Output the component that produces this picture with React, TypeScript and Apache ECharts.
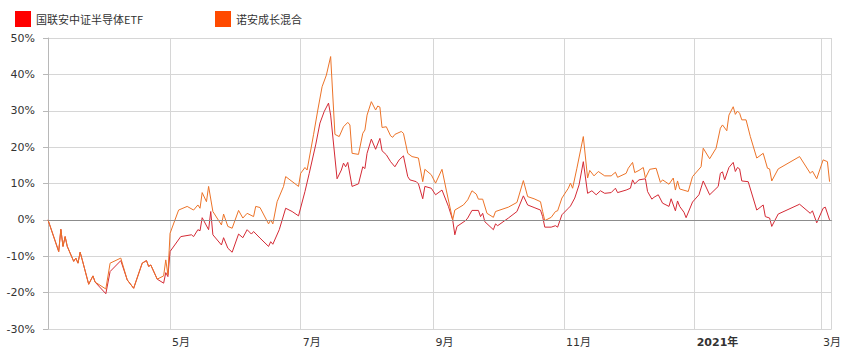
import { useEffect, useRef } from "react";
import * as echarts from "echarts";

const SERIES_NAMES = ["国联安中证半导体ETF", "诺安成长混合"];
const LEGEND_COLORS = ["#ff0000", "#ff4a00"];
const LINE_COLORS = ["#d42a35", "#ec7328"];

const X_MIN = "2020-03-05";
const X_MAX = "2021-03-06";
const Y_MIN = -30;
const Y_MAX = 50;
const Y_STEP = 10;

const etfDates = [
  "2020-03-05", "2020-03-10", "2020-03-11", "2020-03-12", "2020-03-13", "2020-03-14", "2020-03-17", "2020-03-18",
  "2020-03-19", "2020-03-20", "2020-03-21", "2020-03-24", "2020-03-26", "2020-03-27", "2020-04-01", "2020-04-03",
  "2020-04-08", "2020-04-11", "2020-04-14", "2020-04-18", "2020-04-20", "2020-04-21", "2020-04-22", "2020-04-25",
  "2020-04-28", "2020-04-29", "2020-04-30", "2020-05-01", "2020-05-06", "2020-05-11", "2020-05-12", "2020-05-14",
  "2020-05-15", "2020-05-16", "2020-05-19", "2020-05-20", "2020-05-21", "2020-05-25", "2020-05-26", "2020-05-28",
  "2020-05-30", "2020-06-02", "2020-06-04", "2020-06-06", "2020-06-08", "2020-06-09", "2020-06-12", "2020-06-16",
  "2020-06-17", "2020-06-18", "2020-06-21", "2020-06-24", "2020-06-27", "2020-06-30", "2020-07-03", "2020-07-05",
  "2020-07-08", "2020-07-10", "2020-07-12", "2020-07-14", "2020-07-15", "2020-07-18", "2020-07-20", "2020-07-21",
  "2020-07-22", "2020-07-23", "2020-07-25", "2020-07-28", "2020-07-30", "2020-07-31", "2020-08-01", "2020-08-03",
  "2020-08-05", "2020-08-07", "2020-08-08", "2020-08-10", "2020-08-12", "2020-08-14", "2020-08-16", "2020-08-18",
  "2020-08-20", "2020-08-21", "2020-08-24", "2020-08-25", "2020-08-27", "2020-08-28", "2020-08-31", "2020-09-02",
  "2020-09-05", "2020-09-08", "2020-09-10", "2020-09-11", "2020-09-12", "2020-09-16", "2020-09-17", "2020-09-19",
  "2020-09-22", "2020-09-23", "2020-09-24", "2020-09-25", "2020-09-29", "2020-09-30", "2020-10-01", "2020-10-06",
  "2020-10-10", "2020-10-13", "2020-10-15", "2020-10-18", "2020-10-21", "2020-10-22", "2020-10-23", "2020-10-26",
  "2020-10-28", "2020-10-29", "2020-10-31", "2020-11-03", "2020-11-04", "2020-11-06", "2020-11-08", "2020-11-10",
  "2020-11-12", "2020-11-14", "2020-11-16", "2020-11-18", "2020-11-20", "2020-11-23", "2020-11-25", "2020-11-26",
  "2020-11-30", "2020-12-02", "2020-12-03", "2020-12-04", "2020-12-06", "2020-12-09", "2020-12-10", "2020-12-12",
  "2020-12-13", "2020-12-15", "2020-12-17", "2020-12-20", "2020-12-21", "2020-12-23", "2020-12-24", "2020-12-25",
  "2020-12-27", "2020-12-28", "2020-12-31", "2021-01-03", "2021-01-05", "2021-01-08", "2021-01-12", "2021-01-13",
  "2021-01-14", "2021-01-15", "2021-01-17", "2021-01-19", "2021-01-20", "2021-01-21", "2021-01-22", "2021-01-23",
  "2021-01-26", "2021-01-30", "2021-02-02", "2021-02-03", "2021-02-05", "2021-02-06", "2021-02-09", "2021-02-19",
  "2021-02-24", "2021-02-25", "2021-02-27", "2021-03-02", "2021-03-03", "2021-03-05",
];
const etfValues = [
  0, -8.7, -2.6, -7.3, -4.6, -7.3, -11.4, -10.5,
  -11.9, -8.9, -11.0, -17.7, -15.4, -17.1, -20.3, -14.2,
  -11.2, -16.5, -18.8, -11.9, -11.2, -12.8, -12.4, -16.3,
  -17.4, -14.5, -15.6, -8.7, -4.6, -4.1, -4.6, -2.7,
  -3.0, 0.6, -2.7, 2.3, -4.1, -6.9, -4.9, -7.8,
  -8.9, -3.9, -4.9, -2.7, -3.9, -3.2, -5.0, -7.3,
  -6.0, -6.7, -2.7, 3.2, 2.3, 1.1, 7.8, 12.8,
  20.6, 26.6, 29.8, 32.1, 28.8, 11.3, 13.7, 15.6,
  14.6, 15.8, 9.2, 9.9, 14.6, 14.1, 18.3, 22.2,
  19.4, 22.4, 19.0, 17.9, 16.0, 14.6, 16.5, 17.6,
  11.9, 11.0, 10.5, 9.9, 5.8, 9.2, 8.7, 6.9,
  8.2, 3.7, 0, -4.1, -1.8, -0.2, 0.5, 2.6,
  2.6, 0.9, 1.8, -0.5, -2.7, -1.1, -1.6, 0.5,
  2.3, 6.6, 4.1, 3.4, 2.7, 0.9, -2.0, -2.0,
  -1.6, -2.0, 1.4, 3.2, 3.8, 6.0, 9.6, 16.0,
  7.3, 8.0, 6.9, 8.0, 7.3, 7.5, 8.7, 7.5,
  8.2, 8.7, 11.0, 9.9, 11.0, 11.3, 7.8, 5.7,
  6.2, 6.9, 4.6, 3.7, 5.8, 2.5, 5.2, 3.7,
  2.1, 0.6, 4.9, 6.9, 10.7, 6.9, 9.2, 12.8,
  13.2, 11.0, 14.4, 15.8, 13.3, 14.4, 14.0, 10.7,
  10.5, 2.7, 4.1, 0.9, 0.5, -1.8, 1.6, 4.3,
  1.8, 2.5, -0.8, 3.2, 3.5, 0,
];

const fundDates = [
  "2020-03-05", "2020-03-10", "2020-03-11", "2020-03-12", "2020-03-13", "2020-03-14", "2020-03-17", "2020-03-18",
  "2020-03-19", "2020-03-20", "2020-03-21", "2020-03-24", "2020-03-26", "2020-03-27", "2020-04-01", "2020-04-03",
  "2020-04-08", "2020-04-11", "2020-04-14", "2020-04-18", "2020-04-20", "2020-04-21", "2020-04-22", "2020-04-25",
  "2020-04-28", "2020-04-29", "2020-04-30", "2020-05-01", "2020-05-05", "2020-05-09", "2020-05-12", "2020-05-14",
  "2020-05-15", "2020-05-16", "2020-05-18", "2020-05-19", "2020-05-21", "2020-05-25", "2020-05-26", "2020-05-28",
  "2020-05-30", "2020-06-02", "2020-06-04", "2020-06-06", "2020-06-09", "2020-06-10", "2020-06-12", "2020-06-16",
  "2020-06-17", "2020-06-18", "2020-06-20", "2020-06-23", "2020-06-24", "2020-06-26", "2020-06-30", "2020-07-01",
  "2020-07-03", "2020-07-04", "2020-07-07", "2020-07-09", "2020-07-11", "2020-07-13", "2020-07-15", "2020-07-17",
  "2020-07-19", "2020-07-21", "2020-07-23", "2020-07-24", "2020-07-25", "2020-07-28", "2020-07-30", "2020-07-31",
  "2020-08-01", "2020-08-03", "2020-08-05", "2020-08-06", "2020-08-07", "2020-08-08", "2020-08-10", "2020-08-12",
  "2020-08-13", "2020-08-14", "2020-08-17", "2020-08-18", "2020-08-20", "2020-08-22", "2020-08-25", "2020-08-27",
  "2020-08-28", "2020-08-31", "2020-09-02", "2020-09-05", "2020-09-07", "2020-09-10", "2020-09-11", "2020-09-15",
  "2020-09-17", "2020-09-19", "2020-09-21", "2020-09-22", "2020-09-24", "2020-09-26", "2020-09-29", "2020-09-30",
  "2020-10-06", "2020-10-10", "2020-10-13", "2020-10-15", "2020-10-18", "2020-10-21", "2020-10-22", "2020-10-23",
  "2020-10-26", "2020-10-28", "2020-10-29", "2020-10-31", "2020-11-03", "2020-11-04", "2020-11-05", "2020-11-07",
  "2020-11-10", "2020-11-12", "2020-11-13", "2020-11-15", "2020-11-17", "2020-11-20", "2020-11-23", "2020-11-25",
  "2020-11-26", "2020-11-30", "2020-12-01", "2020-12-03", "2020-12-04", "2020-12-06", "2020-12-08", "2020-12-09",
  "2020-12-11", "2020-12-14", "2020-12-16", "2020-12-17", "2020-12-20", "2020-12-22", "2020-12-23", "2020-12-24",
  "2020-12-25", "2020-12-29", "2020-12-31", "2021-01-04", "2021-01-05", "2021-01-08", "2021-01-11", "2021-01-13",
  "2021-01-14", "2021-01-16", "2021-01-17", "2021-01-19", "2021-01-20", "2021-01-21", "2021-01-22", "2021-01-23",
  "2021-01-25", "2021-01-27", "2021-01-30", "2021-02-02", "2021-02-04", "2021-02-05", "2021-02-06", "2021-02-09",
  "2021-02-19", "2021-02-24", "2021-02-25", "2021-02-27", "2021-03-02", "2021-03-04", "2021-03-05",
];
const fundValues = [
  0, -8.7, -2.6, -7.3, -4.6, -7.3, -11.4, -10.5,
  -11.9, -8.9, -11.0, -17.7, -15.4, -17.1, -19.0, -11.9,
  -10.5, -16.5, -18.8, -11.9, -11.2, -12.8, -12.4, -16.3,
  -15.4, -11.0, -15.1, -3.7, 2.7, 3.7, 2.7, 4.1,
  3.2, 7.5, 5.0, 9.2, 2.3, -1.4, 1.6, -1.8,
  -2.3, 2.6, 0.5, 1.8, 0.9, 3.7, 3.4, -1.1,
  0, -1.1, 5.0, 9.2, 11.9, 11.0, 9.2, 12.8,
  14.4, 13.7, 23.4, 30.2, 36.6, 39.8, 44.9, 23.5,
  22.9, 25.6, 26.8, 26.1, 18.3, 18.0, 23.8, 24.7,
  28.8, 32.5, 30.2, 31.3, 31.0, 25.4, 25.6, 23.1,
  22.7, 23.5, 24.3, 23.8, 18.3, 17.4, 17.0, 10.5,
  13.9, 12.4, 10.1, 13.9, 8.2, 0, 2.7, 4.1,
  5.5, 8.0, 7.1, 5.7, 5.7, 1.8, 0.7, 2.3,
  3.5, 4.8, 10.8, 6.4, 5.8, 5.0, 2.3, -0.2,
  0.7, 2.3, 2.5, 6.0, 8.7, 10.1, 8.7, 14.2,
  22.9, 11.5, 13.6, 12.1, 13.3, 12.1, 12.1, 13.1,
  11.7, 12.8, 14.2, 15.8, 13.0, 13.6, 14.4, 11.5,
  13.9, 14.2, 10.3, 11.0, 9.8, 11.5, 8.2, 10.7,
  8.5, 7.8, 11.9, 14.6, 19.7, 16.8, 19.7, 25.2,
  26.1, 24.5, 28.8, 31.1, 29.0, 29.9, 29.3, 27.5,
  27.5, 22.9, 17.0, 18.3, 14.2, 14.0, 10.7, 14.0,
  17.4, 12.8, 13.4, 11.3, 16.5, 16.0, 10.5,
];

const LABEL_FONT = "'DejaVu Sans', 'Noto Sans CJK SC', sans-serif";
const LEGEND_FONT = "'Noto Sans CJK SC', 'DejaVu Sans', sans-serif";

export default function App() {
  const ref = useRef<HTMLDivElement>(null);

  useEffect(() => {
    document.body.style.margin = "0";
    if (!ref.current) return;
    const chart = echarts.init(ref.current, null, { renderer: "svg" });

    const legendBase = {
      icon: "rect",
      itemWidth: 16,
      itemHeight: 16,
      top: 6,
      selectedMode: false,
      textStyle: { fontSize: 11, color: "#333", fontFamily: LEGEND_FONT },
    };

    chart.setOption({
      animation: false,
      tooltip: { show: false },
      grid: { left: 48, right: 10, top: 38, bottom: 24, containLabel: false },
      legend: [
        {
          ...legendBase,
          left: 10,
          data: [{ name: SERIES_NAMES[0], itemStyle: { color: LEGEND_COLORS[0], borderWidth: 0 } }],
        },
        {
          ...legendBase,
          left: 210,
          data: [{ name: SERIES_NAMES[1], itemStyle: { color: LEGEND_COLORS[1], borderWidth: 0 } }],
        },
      ],
      xAxis: {
        type: "time",
        min: X_MIN,
        max: X_MAX,
        splitNumber: 6,
        axisLine: { show: true, lineStyle: { color: "#b8b8b8", width: 1 } },
        axisTick: { show: false },
        splitLine: { show: true, lineStyle: { color: "#d6d6d6", width: 1 } },
        axisLabel: {
          color: "#333",
          fontSize: 11,
          fontFamily: LABEL_FONT,
          align: "left",
          padding: [0, 0, 0, 2],
          margin: 8,
          showMinLabel: false,
          showMaxLabel: false,
          formatter: {
            year: "{primary|{yyyy}年}",
            month: "{M}月",
          },
          rich: {
            primary: { fontWeight: "bold", fontSize: 11, color: "#333", fontFamily: LABEL_FONT },
          },
        },
      },
      yAxis: {
        type: "value",
        min: Y_MIN,
        max: Y_MAX,
        interval: Y_STEP,
        axisLine: { show: true, lineStyle: { color: "#b8b8b8", width: 1 } },
        axisTick: { show: true, length: 5, lineStyle: { color: "#b8b8b8" } },
        splitLine: { show: true, lineStyle: { color: "#d6d6d6", width: 1 } },
        axisLabel: {
          formatter: "{value}%",
          color: "#333",
          fontSize: 11,
          fontFamily: LABEL_FONT,
          margin: 13,
        },
      },
      series: [
        {
          name: SERIES_NAMES[0],
          type: "line",
          data: etfDates.map((d, i) => [d, etfValues[i]]),
          showSymbol: false,
          symbol: "none",
          itemStyle: { color: LEGEND_COLORS[0] },
          lineStyle: { width: 1, color: LINE_COLORS[0] },
          emphasis: { disabled: true },
          markLine: {
            silent: true,
            symbol: "none",
            label: { show: false },
            lineStyle: { color: "#8c8c8c", width: 1, type: "solid" },
            data: [{ yAxis: 0 }],
          },
        },
        {
          name: SERIES_NAMES[1],
          type: "line",
          data: fundDates.map((d, i) => [d, fundValues[i]]),
          showSymbol: false,
          symbol: "none",
          itemStyle: { color: LEGEND_COLORS[1] },
          lineStyle: { width: 1, color: LINE_COLORS[1] },
          emphasis: { disabled: true },
        },
      ],
    });

    return () => chart.dispose();
  }, []);

  return <div ref={ref} style={{ width: 844, height: 353, background: "#fff" }} />;
}
